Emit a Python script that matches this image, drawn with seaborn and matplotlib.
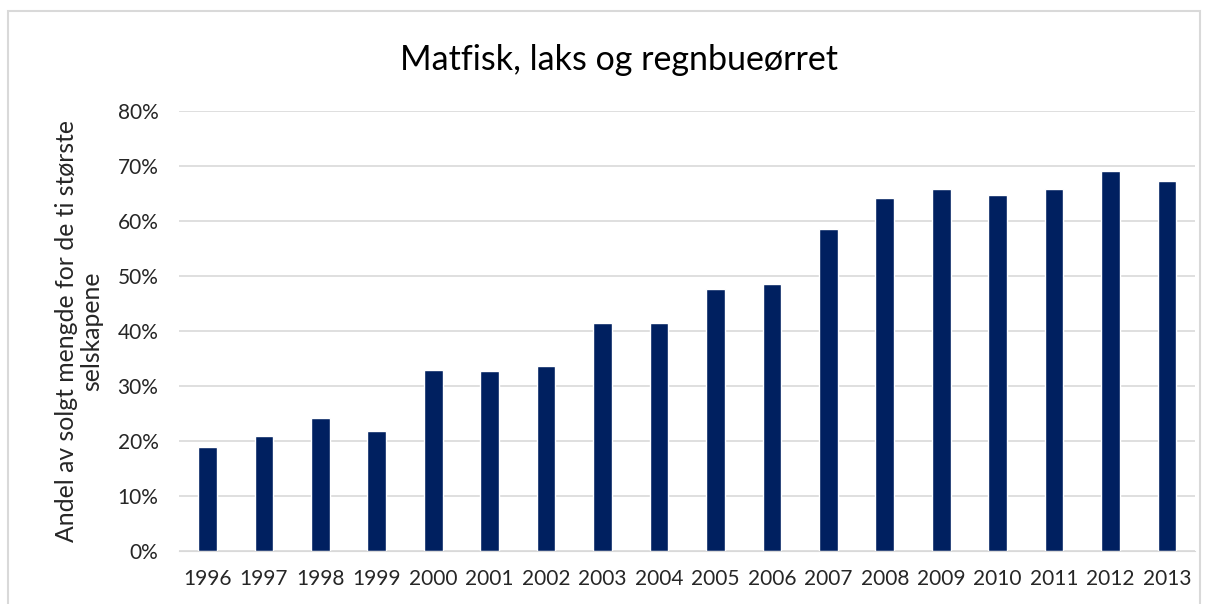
import pandas as pd
import matplotlib.pyplot as plt
import seaborn as sns
from matplotlib.ticker import PercentFormatter
from matplotlib.patches import Rectangle

# Data
years = ['1996', '1997', '1998', '1999', '2000', '2001', '2002', '2003', '2004',
         '2005', '2006', '2007', '2008', '2009', '2010', '2011', '2012', '2013']
shares = [0.189, 0.210, 0.241, 0.218, 0.329, 0.327, 0.337, 0.415, 0.415,
          0.477, 0.486, 0.585, 0.641, 0.659, 0.647, 0.659, 0.691, 0.673]

title = 'Matfisk, laks og regnbueørret'
ylabel = 'Andel av solgt mengde for de ti største\nselskapene'

sns.set_style('white')
plt.rcParams['font.family'] = ['Lato', 'DejaVu Sans']

df = pd.DataFrame({'year': years, 'share': shares})

fig = plt.figure(figsize=(12.11, 6.04), dpi=100)
ax = fig.add_axes([0.148, 0.0877, 0.839, 0.7285])

sns.barplot(data=df, x='year', y='share', color='#002060', saturation=1,
            width=0.33, ax=ax)

ax.set_ylim(0, 0.8)
ax.set_yticks([i / 10 for i in range(9)])
ax.yaxis.set_major_formatter(PercentFormatter(1.0, decimals=0))
ax.grid(axis='y', color='#d9d9d9', linewidth=1.2)
ax.set_axisbelow(True)
for side in ['top', 'right', 'left']:
    ax.spines[side].set_visible(False)
ax.spines['bottom'].set_color('#d9d9d9')
ax.tick_params(axis='both', length=0, labelsize=15, colors='#262626')
ax.tick_params(axis='y', pad=15)
ax.tick_params(axis='x', pad=13)
ax.set_xlabel('')
ax.set_ylabel(ylabel, fontsize=17.8, color='#262626', linespacing=1.15, labelpad=10)

fig.text(0.511, 0.9, title, ha='center', va='center', fontsize=24.5, color='#000000')

# light border around chart area, like the spreadsheet frame
fig.patches.append(Rectangle((8 / 1211, -0.05), 1192 / 1211, 1.05 - 11 / 604,
                             transform=fig.transFigure, fill=False,
                             edgecolor='#d9d9d9', linewidth=1.5))

fig.savefig('out.png', dpi=100)
